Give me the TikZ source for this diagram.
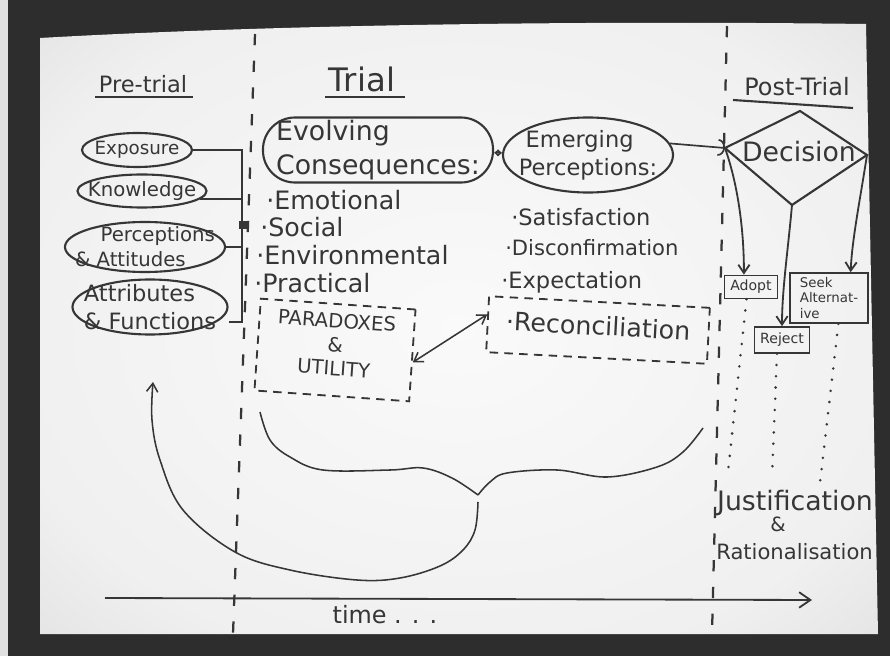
\documentclass[tikz,border=0pt]{standalone}
\usepackage{fontspec}
\setmainfont{DejaVu Sans}
\usetikzlibrary{shapes.geometric,arrows.meta}
\definecolor{ink}{HTML}{363636}
\definecolor{desk}{HTML}{2D2D2D}
\definecolor{paperA}{gray}{0.98}
\definecolor{paperB}{gray}{0.94}
\definecolor{paperC}{gray}{0.82}
\definecolor{paperD}{gray}{0.70}
\pgfdeclareradialshading{paperglow}{\pgfpoint{0bp}{0bp}}{color(0bp)=(paperA); color(28bp)=(paperB); color(50bp)=(paperC); color(71bp)=(paperD)}
\newcommand{\hsz}[1]{\fontsize{#1}{\numexpr#1*5/4\relax}\selectfont}

\begin{document}
\begin{tikzpicture}[x=0.025cm, y=-0.025cm,
    pen/.style={draw=ink, line width=1.5pt},
    hand/.style={text=ink, inner sep=0pt, align=left, font=\hsz{#1}},
    oval/.style={ellipse, draw=ink, line width=1.5pt, inner sep=0pt},
    pill/.style={rectangle, rounded corners=0.8cm, draw=ink, line width=1.5pt, inner sep=0pt},
    bx/.style={draw=ink, line width=1.1pt, text=ink, inner sep=0pt, align=left},
    dbox/.style={draw=ink, line width=1.3pt, dash pattern=on 6pt off 4.5pt},
    divider/.style={draw=ink, line width=1.6pt, dash pattern=on 8pt off 11pt},
    dotln/.style={draw=ink, line width=2pt, line cap=round, dash pattern=on 0pt off 8pt},
    arr/.style={draw=ink, line width=1.3pt, -{Straight Barb[length=6pt,width=8pt]}}
]
    \useasboundingbox (0,0) rectangle (890,656);
    \fill[black!12] (0,0) rectangle (890,656);
    \fill[desk] (8,0) rectangle (890,656);
    \shade[shading=paperglow]
        (40,38) .. controls (250,26) and (550,20) .. (866,24) -- (878,634) -- (40,634) -- cycle;

    \draw[divider] (255,34) -- (233,634);
    \draw[divider] (727,26) -- (712,634);

    \node[hand=16] (pre) at (143,84) {Pre-trial};
    \draw[pen] (95,97) -- (193,97);
    \node[hand=23] (trial) at (362,79) {Trial};
    \draw[pen] (325,97) -- (405,97);
    \node[hand=17] (post) at (797,87) {Post-Trial};
    \draw[pen] (733,100) -- (853,108);

    \node[oval, minimum width=2.75cm, minimum height=0.85cm,
        label={[hand=13]center:Exposure}] (exp) at (137,150) {};
    \node[oval, minimum width=3.225cm, minimum height=0.825cm,
        label={[hand=14]center:Knowledge}] (know) at (142,191) {};
    \node[oval, minimum width=4cm, minimum height=1.25cm,
        label={[hand=14]center:{\hspace{1.3em}Perceptions\\\& Attitudes}}] (perc) at (145,247) {};
    \node[oval, minimum width=3.875cm, minimum height=1.375cm,
        label={[hand=16]center:{Attributes\\\& Functions}}] (attr) at (150,307) {};
    \coordinate (brt) at (242,149);
    \coordinate (brb) at (242,322);
    \draw[pen] (exp.east) -- (exp.east -| brt) -- (brb) -- (brb -| attr.east);
    \draw[pen] (know.-8) -- (know.-8 -| brt);
    \draw[pen] (perc.east) -- (perc.east -| brt);
    \node[fill=ink, minimum width=0.2cm, minimum height=0.2cm, inner sep=0pt] (jn) at (243,225) {};

    \node[pill, minimum width=5.75cm, minimum height=1.625cm,
        label={[hand=19]center:{Evolving\\Consequences:}}] (evol) at (378,150) {};
    \node[hand=18, anchor=west] (emo) at (266,200) {·Emotional};
    \node[hand=18, anchor=west] (soc) at (260,227) {·Social};
    \node[hand=18, anchor=west] (env) at (256,255) {·Environmental};
    \node[hand=18, anchor=west] (prac) at (254,283) {·Practical};
    \node[dbox, minimum width=3.875cm, minimum height=2.3cm, rotate=-4,
        label={[hand=14, align=center, rotate=-4, yshift=4pt, font=\fontsize{14}{17}\selectfont]center:{PARADOXES\\\&\\UTILITY}}] (par) at (335,350) {};

    \node[oval, minimum width=4.25cm, minimum height=1.875cm,
        label={[hand=16]center:{\hspace{0.3em}Emerging\\Perceptions:}}] (emerg) at (588,155) {};
    \draw[draw=ink, line width=1pt, {Straight Barb[length=2.5pt,width=4pt]}-{Straight Barb[length=2.5pt,width=4pt]}] (evol) -- (emerg);
    \node[hand=16, anchor=west] (sat) at (511,217) {·Satisfaction};
    \node[hand=15, anchor=west] (dis) at (505,248) {·Disconfirmation};
    \node[hand=16, anchor=west] (expc) at (501,282) {·Expectation};
    \node[dbox, minimum width=5.525cm, minimum height=1.4cm, rotate=-3,
        label={[hand=18, rotate=-3, yshift=3pt]center:·Reconciliation}] (rec) at (598,330) {};
    \draw[draw=ink, line width=1.1pt, {Straight Barb[length=6pt,width=8pt]}-{Straight Barb[length=6pt,width=8pt]}] (par.-5) -- (rec.175);

    \coordinate (dt) at (800,111);
    \coordinate (dl) at (725,148);
    \coordinate (dr) at (867,155);
    \coordinate (db) at (792,205);
    \draw[pen] (dt) -- (dr) -- (db) -- (dl) -- cycle;
    \node[hand=19] (dec) at (799,152) {Decision};
    \draw[draw=ink, line width=1.2pt, -{Arc Barb[length=5pt,width=12pt]}] (emerg.8) -- (dl);

    \node[bx, minimum width=1.325cm, minimum height=0.575cm, font=\hsz{10}] (adopt) at (751,287) {Adopt};
    \node[bx, minimum width=1.375cm, minimum height=0.65cm, font=\hsz{10}] (reject) at (782,340) {Reject};
    \node[bx, minimum width=1.95cm, minimum height=1.25cm, font=\fontsize{9.5}{11}\selectfont] (seek) at (829,298) {Seek\\Alternat-\\ive};
    \draw[arr] (dl) .. controls (738,185) and (744,230) .. (adopt.120);
    \draw[arr] (db) .. controls (788,250) and (782,290) .. (reject.north);
    \draw[arr] (dr) .. controls (860,200) and (852,240) .. (seek.50);

    \coordinate (ja) at (728,472);
    \coordinate (jr) at (772,477);
    \coordinate (js) at (820,483);
    \draw[dotln] (adopt.250) -- (ja);
    \draw[dotln] (reject.250) -- (jr);
    \draw[dotln] (seek.290) -- (js);
    \node[hand=19] (just) at (795,503) {Justification};
    \node[hand=14] (amp) at (778,524) {\&};
    \node[hand=15, anchor=west] (rat) at (716,552) {Rationalisation};

    \draw[draw=ink, line width=1.1pt] plot[smooth, tension=0.6] coordinates {(260,412) (270,440) (290,457) (323,470) (390,470) (423,468) (452,478) (478,495)};
    \draw[draw=ink, line width=1.1pt] plot[smooth, tension=0.6] coordinates {(478,495) (490,482) (507,473) (557,470) (607,477) (657,467) (683,452) (703,428)};
    \draw[draw=ink, line width=1.1pt, -{Straight Barb[length=6pt,width=8pt]}] plot[smooth, tension=0.6] coordinates {(478,502) (475,530) (463,550) (440,566) (400,578) (357,580) (290,570) (235,552) (183,510) (160,460) (152,420) (153,382)};

    \coordinate (t0) at (105,598);
    \coordinate (t1) at (812,600);
    \draw[draw=ink, line width=1.3pt, -{Straight Barb[length=8pt,width=11pt]}] (t0) -- (t1);
    \node[hand=17] (time) at (385,615) {time . . .};
\end{tikzpicture}
\end{document}
